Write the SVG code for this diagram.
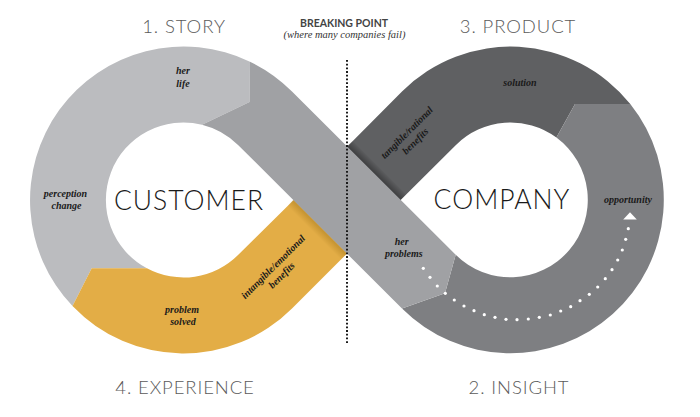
<svg xmlns="http://www.w3.org/2000/svg" width="700" height="417" viewBox="0 0 700 417">
<style>
.head{font-family:Lato,"Open Sans","Liberation Sans",sans-serif;font-weight:300;font-size:18.5px;fill:#5a5a5a;text-anchor:middle;letter-spacing:0.9px}
.big{font-family:Lato,"Open Sans","Liberation Sans",sans-serif;font-weight:300;font-size:26.5px;fill:#1a1a1a;text-anchor:middle;letter-spacing:1px}
.lbl{font-family:"Liberation Serif","DejaVu Serif",serif;font-style:italic;font-weight:bold;font-size:10px;fill:#1a1a1a;text-anchor:middle}
.bp{font-family:Lato,"Liberation Sans",sans-serif;font-weight:bold;font-size:10.5px;fill:#444;text-anchor:middle}
.sub{font-family:"Liberation Serif",serif;font-style:italic;font-size:10.5px;fill:#333;text-anchor:middle}
.dot{fill:#fff}
</style>
<defs>
<linearGradient id="shD" gradientUnits="userSpaceOnUse" x1="373.7" y1="173.2" x2="380" y2="166.9">
<stop offset="0" stop-color="#000" stop-opacity="0.35"/><stop offset="1" stop-color="#000" stop-opacity="0"/>
</linearGradient>
<linearGradient id="shY" gradientUnits="userSpaceOnUse" x1="320" y1="226.9" x2="314" y2="232.9">
<stop offset="0" stop-color="#7a5500" stop-opacity="0.3"/><stop offset="1" stop-color="#7a5500" stop-opacity="0"/>
</linearGradient>
</defs>

<g id="headings">
<text class="head" x="184" y="33">1. STORY</text>
<text class="head" x="518" y="33">3. PRODUCT</text>
<text class="head" x="185" y="394">4. EXPERIENCE</text>
<text class="head" x="519" y="394">2. INSIGHT</text>
<text class="bp" x="344" y="26.5">BREAKING POINT</text>
<text class="sub" x="344.5" y="37.5">(where many companies fail)</text>
</g>

<g id="story-light">
<path fill="#bbbcbf" d="M250,61.7 A153.5,153.5 0 0 0 72.5,306.05 L91.7,268.3 L146.9,268.3 A77.5,77.5 0 0 1 202,124.7 L249.5,102 Z"/>
</g>
<g id="experience-yellow">
<path fill="#e3ad46" d="M72.5,306.05 A153.5,153.5 0 0 0 292,308.5 L373.75,226.75 L320.5,173.5 L238.3,254.8 A77.5,77.5 0 0 1 146.9,268.3 L91.7,268.3 Z"/>
<polygon fill="url(#shY)" points="293.2,200.1 346.8,253.7 341.1,259.4 287.5,205.8"/>
</g>
<g id="product-dark">
<path fill="#5f6062" d="M320.5,173.5 L402,91.5 A153.5,153.5 0 0 1 630.3,104 L575,104 L556.4,137.5 A77.5,77.5 0 0 0 455.7,145.2 L373.75,226.75 Z"/>
<polygon fill="url(#shD)" points="346.9,146.4 400.5,200 406.2,194.3 352.6,140.7"/>
</g>
<g id="insight-mid">
<path fill="#7e7f82" d="M630.3,104 A153.5,153.5 0 0 1 402,308.5 L445,293.3 L455.7,254.8 A77.5,77.5 0 1 0 556.4,137.5 L575,104 Z"/>
</g>
<g id="crossing-band">
<path fill="#a0a1a4" d="M250,61.7 A153.5,153.5 0 0 1 292,91.5 L455.7,254.8 L445,293.3 L402,308.5 L238.3,145.2 A77.5,77.5 0 0 0 202,124.7 L249.5,102 Z"/>
</g>

<g id="connectors">
<line x1="347" y1="60" x2="347" y2="344" stroke="#1a1a1a" stroke-width="2" stroke-dasharray="1.8 1.9"/>
<g id="dotted-arrow">
<circle class="dot" cx="423.3" cy="268.3" r="1.6"/>
<circle class="dot" cx="430" cy="277.3" r="1.6"/>
<circle class="dot" cx="437.3" cy="286" r="1.6"/>
<circle class="dot" cx="445.3" cy="293.3" r="1.6"/>
<circle class="dot" cx="454.3" cy="300" r="1.6"/>
<circle class="dot" cx="464" cy="306" r="1.6"/>
<circle class="dot" cx="474" cy="310.7" r="1.6"/>
<circle class="dot" cx="484.3" cy="314.7" r="1.6"/>
<circle class="dot" cx="495" cy="317.3" r="1.6"/>
<circle class="dot" cx="506" cy="319.3" r="1.6"/>
<circle class="dot" cx="517" cy="319.7" r="1.6"/>
<circle class="dot" cx="528.3" cy="319" r="1.6"/>
<circle class="dot" cx="539.3" cy="317.3" r="1.6"/>
<circle class="dot" cx="550.3" cy="315" r="1.6"/>
<circle class="dot" cx="560.7" cy="311" r="1.6"/>
<circle class="dot" cx="570.7" cy="306.7" r="1.6"/>
<circle class="dot" cx="580" cy="300.7" r="1.6"/>
<circle class="dot" cx="589.3" cy="294.3" r="1.6"/>
<circle class="dot" cx="597.7" cy="287" r="1.6"/>
<circle class="dot" cx="605.3" cy="278.7" r="1.6"/>
<circle class="dot" cx="612" cy="269.7" r="1.6"/>
<circle class="dot" cx="617.7" cy="260" r="1.6"/>
<circle class="dot" cx="622.3" cy="250" r="1.6"/>
<circle class="dot" cx="625.7" cy="239.3" r="1.6"/>
<circle class="dot" cx="628.3" cy="228.7" r="1.6"/>
<polygon fill="#fff" points="623.2,219.6 636.8,219.6 630,212.3"/>
</g>
</g>

<g id="labels">
<text class="big" x="189" y="210">CUSTOMER</text>
<text class="big" x="502" y="208.5">COMPANY</text>
<text class="lbl" x="183" y="74">her</text>
<text class="lbl" x="183" y="86.7">life</text>
<text class="lbl" x="65.5" y="196.7">perception</text>
<text class="lbl" x="66.5" y="209.3">change</text>
<text class="lbl" x="182" y="312.7">problem</text>
<text class="lbl" x="183" y="325">solved</text>
<g transform="translate(275.5,269.2) rotate(-45)">
<text class="lbl" x="0" y="0">intangible/emotional</text>
<text class="lbl" x="0" y="12">benefits</text>
</g>
<g transform="translate(409.2,135) rotate(-45)">
<text class="lbl" x="0" y="0">tangible/rational</text>
<text class="lbl" x="0" y="12">benefits</text>
</g>
<text class="lbl" x="520" y="86">solution</text>
<text class="lbl" x="628" y="203.3">opportunity</text>
<text class="lbl" x="401.7" y="245">her</text>
<text class="lbl" x="403.8" y="257.3">problems</text>
</g>
</svg>
